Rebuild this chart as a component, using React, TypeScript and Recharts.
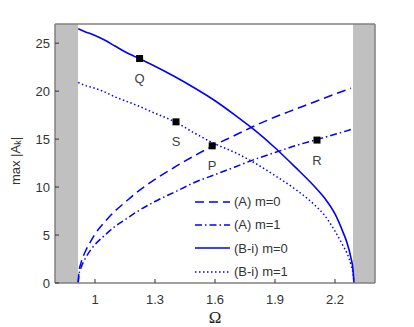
import React from 'react';
import { ComposedChart, Line, Scatter, XAxis, YAxis, ReferenceArea, Legend } from 'recharts';

// Branch (A): frequency and amplitudes
const omegaA = [0.916, 0.92, 0.93, 0.95, 0.98, 1.0, 1.05, 1.1, 1.15, 1.2, 1.3, 1.4, 1.5, 1.6, 1.7, 1.8, 1.9, 2.0, 2.1, 2.2, 2.28];
const ampA0 = [0, 1.2, 2.1, 3.2, 4.4, 5.1, 6.4, 7.5, 8.4, 9.3, 10.8, 12.1, 13.3, 14.4, 15.4, 16.4, 17.3, 18.1, 18.9, 19.7, 20.3];
const ampA1 = [0, 0.9, 1.6, 2.5, 3.5, 4.0, 5.0, 5.9, 6.6, 7.3, 8.5, 9.5, 10.5, 11.3, 12.1, 12.9, 13.6, 14.3, 14.9, 15.5, 16.0];

// Branch (B-i)
const omegaB = [0.916, 0.95, 1.0, 1.05, 1.1, 1.15, 1.2, 1.3, 1.4, 1.5, 1.6, 1.7, 1.8, 1.9, 2.0, 2.1, 2.15, 2.2, 2.24, 2.26, 2.28, 2.29, 2.295];
const ampB0 = [26.5, 26.2, 25.8, 25.3, 24.7, 24.1, 23.6, 22.6, 21.5, 20.3, 19.0, 17.5, 15.9, 14.1, 12.1, 10.0, 8.8, 7.2, 5.3, 4.2, 2.6, 1.4, 0];
const ampB1 = [20.9, 20.6, 20.3, 19.9, 19.4, 19.0, 18.6, 17.7, 16.8, 15.6, 14.5, 13.6, 12.5, 11.2, 9.8, 8.1, 7.0, 5.4, 3.9, 3.1, 1.9, 1.0, 0];

// Marked points
const markerOmega = [1.223, 1.405, 1.586, 2.11];
const markerAmp = [23.4, 16.8, 14.3, 14.9];
const markerLabels = ['Q', 'S', 'P', 'R'];

// Forbidden (grey) bands
const bandLeft = [0.8, 0.915];
const bandRight = [2.29, 2.4];

const xTicks = [1, 1.3, 1.6, 1.9, 2.2];
const yTicks = [0, 5, 10, 15, 20, 25];
const seriesNames = ['(A) m=0', '(A) m=1', '(B-i) m=0', '(B-i) m=1'];

const toPoints = (xs: number[], ys: number[]) => xs.map((x, i) => ({ x, y: ys[i] }));

const BLUE = '#0000ff';
const FONT = '"Liberation Sans", Arial, sans-serif';

const series = [
  { name: seriesNames[0], data: toPoints(omegaA, ampA0), dash: '9 5', width: 1.5 },
  { name: seriesNames[1], data: toPoints(omegaA, ampA1), dash: '7 3 1.5 3', width: 1.5 },
  { name: seriesNames[2], data: toPoints(omegaB, ampB0), dash: undefined as string | undefined, width: 1.6 },
  { name: seriesNames[3], data: toPoints(omegaB, ampB1), dash: '1.5 2.5', width: 1.5 },
];

const markers = markerOmega.map((x, i) => ({ x, y: markerAmp[i], label: markerLabels[i] }));

const MarkerShape = (props: any) => {
  const { cx, cy, payload } = props;
  if (cx == null || cy == null) return <g />;
  return (
    <g>
      <rect x={cx - 3.5} y={cy - 3.5} width={7} height={7} fill="#000" />
      <text x={cx} y={cy + 20} textAnchor="middle" dominantBaseline="central" fontSize={13} fontFamily={FONT} fill="#404040">
        {payload.label}
      </text>
    </g>
  );
};

const LegendContent = () => (
  <div style={{ fontFamily: FONT, fontSize: 13, color: '#333' }}>
    {series.map((s) => (
      <div key={s.name} style={{ display: 'flex', alignItems: 'center', height: 23.3 }}>
        <svg width={40} height={12} style={{ display: 'block' }}>
          <line x1={2} y1={6} x2={37} y2={6} stroke={BLUE} strokeWidth={s.width} strokeDasharray={s.dash} />
        </svg>
        <span style={{ marginLeft: 1, whiteSpace: 'nowrap' }}>{s.name}</span>
      </div>
    ))}
  </div>
);

const YLabel = () => (
  <text x={15} y={161} textAnchor="middle" dominantBaseline="central" transform="rotate(-90 15 161)" fontSize={13} fontFamily={FONT} fill="#333">
    max |A<tspan dy={3} fontSize={9}>k</tspan><tspan dy={-3}>|</tspan>
  </text>
);

const XLabel = () => (
  <text x={215} y={317} textAnchor="middle" dominantBaseline="central" fontSize={17} fontFamily='"Liberation Serif", "Times New Roman", serif' fill="#222">
    Ω
  </text>
);

export default function App() {
  const axisLine = { stroke: '#808080', strokeWidth: 1.5 };
  const tickLine = { stroke: '#333', strokeWidth: 1 };
  const tickStyle = { fontSize: 13, fontFamily: FONT, fill: '#333' };
  return (
    <div style={{ position: 'absolute', left: 0, top: 0, background: '#fff' }}>
      <ComposedChart width={414} height={327} margin={{ top: 23, right: 38, bottom: 14, left: 15 }}>
        <XAxis
          xAxisId={0}
          type="number"
          dataKey="x"
          domain={[0.8, 2.4]}
          ticks={xTicks}
          allowDataOverflow
          height={30}
          axisLine={axisLine}
          tickLine={tickLine}
          tickSize={-4}
          tickMargin={16}
          tick={tickStyle}
          label={{ content: () => <XLabel /> }}
        />
        <XAxis
          xAxisId="top"
          orientation="top"
          type="number"
          domain={[0.8, 2.4]}
          ticks={xTicks}
          allowDataOverflow
          height={1}
          axisLine={axisLine}
          tickLine={tickLine}
          tickSize={-4}
          tick={false}
        />
        <YAxis
          yAxisId={0}
          type="number"
          domain={[0, 27]}
          ticks={yTicks}
          allowDataOverflow
          width={40}
          axisLine={axisLine}
          tickLine={tickLine}
          tickSize={-4}
          tickMargin={9}
          tick={tickStyle}
          label={{ content: () => <YLabel /> }}
        />
        <YAxis
          yAxisId="right"
          orientation="right"
          type="number"
          domain={[0, 27]}
          ticks={yTicks}
          allowDataOverflow
          width={1}
          axisLine={axisLine}
          tickLine={tickLine}
          tickSize={-4}
          tick={false}
        />
        <ReferenceArea x1={bandLeft[0]} x2={bandLeft[1]} y1={0} y2={27} fill="#c0c0c0" fillOpacity={1} stroke="none" ifOverflow="hidden" />
        <ReferenceArea x1={bandRight[0]} x2={bandRight[1]} y1={0} y2={27} fill="#c0c0c0" fillOpacity={1} stroke="none" ifOverflow="hidden" />
        {series.map((s) => (
          <Line
            key={s.name}
            name={s.name}
            data={s.data}
            dataKey="y"
            type="monotone"
            stroke={BLUE}
            strokeWidth={s.width}
            strokeDasharray={s.dash}
            dot={false}
            activeDot={false}
            isAnimationActive={false}
          />
        ))}
        <Scatter data={markers} dataKey="y" shape={<MarkerShape />} isAnimationActive={false} legendType="none" />
        <Legend
          layout="vertical"
          align="center"
          verticalAlign="middle"
          content={<LegendContent />}
          wrapperStyle={{ left: 193, top: 190, width: 130, bottom: 'auto', right: 'auto' }}
        />
      </ComposedChart>
    </div>
  );
}
